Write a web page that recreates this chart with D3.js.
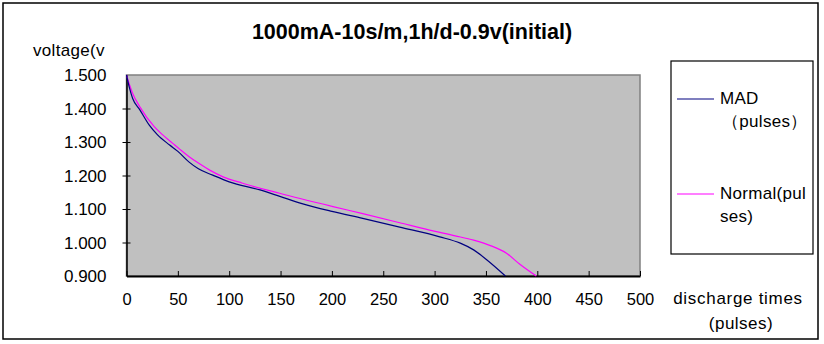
<!DOCTYPE html>
<html><head><meta charset="utf-8">
<script src="https://cdn.jsdelivr.net/npm/d3@7"></script>
<style>
body{margin:0;background:#fff;}
svg{display:block;font-family:Arial,"Liberation Sans",sans-serif;}
</style></head>
<body>
<svg id="c" width="824" height="344"></svg>
<script>
const title = "1000mA-10s/m,1h/d-0.9v(initial)";
const xTicks = [0,50,100,150,200,250,300,350,400,450,500];
const yTicks = [0.9,1.0,1.1,1.2,1.3,1.4,1.5];
const madPulses = [0,3,6,13,22,30,42,50,61,70,84,100,130,150,170,200,230,266,305,325,338,351,369];
const madVolts  = [1.5,1.46,1.43,1.396,1.351,1.322,1.291,1.272,1.240,1.220,1.201,1.181,1.157,1.137,1.117,1.093,1.072,1.046,1.017,0.998,0.978,0.948,0.9];
const normPulses = [0,3,6,13,27,35,45,52,61,70,81,94,113,149,200,230,266,295,320,338,355,370,383,399];
const normVolts  = [1.5,1.47,1.445,1.405,1.346,1.322,1.296,1.278,1.256,1.237,1.216,1.196,1.177,1.147,1.108,1.086,1.059,1.037,1.020,1.007,0.990,0.968,0.935,0.9];

const svg = d3.select("#c");
const L=126.5, R=640, T=75, B=276;
const x = d3.scaleLinear().domain([0,500]).range([L,R]);
const y = d3.scaleLinear().domain([0.9,1.5]).range([B,T]);
const FONT = "Arial,'Liberation Sans',sans-serif";

svg.append("rect").attr("x",3).attr("y",3).attr("width",815).attr("height",336)
  .attr("fill","#fff").attr("stroke","#000").attr("stroke-width",1.5);

svg.append("text").attr("x",412).attr("y",39).attr("text-anchor","middle")
  .attr("font-size",21.5).attr("font-weight","bold").text(title);

svg.append("rect").attr("x",L).attr("y",T).attr("width",R-L).attr("height",B-T)
  .attr("fill","#c0c0c0").attr("stroke","#808080").attr("stroke-width",1.5);

const yAxis = d3.axisLeft(y).tickValues(yTicks).tickFormat(d3.format(".3f")).tickSizeInner(4).tickSizeOuter(0).tickPadding(16);
const gy = svg.append("g").attr("transform",`translate(${L},0)`).call(yAxis);
gy.select(".domain").attr("stroke","#000").attr("stroke-width",1.5);
gy.selectAll(".tick line").attr("x2",4).attr("x1",-4).attr("stroke","#000");
gy.selectAll(".tick text").attr("font-size",17).attr("font-family",FONT).attr("fill","#000").attr("dy","0.35em");
gy.selectAll(".tick").filter(d=>d===0.9||d===1.5).select("line").remove();

const xAxis = d3.axisBottom(x).tickValues(xTicks).tickSizeInner(-5).tickSizeOuter(0).tickPadding(17);
const gx = svg.append("g").attr("transform",`translate(0,${B})`).call(xAxis);
gx.select(".domain").attr("stroke","#000").attr("stroke-width",2);
gx.selectAll(".tick line").attr("stroke","#000");
gx.selectAll(".tick text").attr("font-size",16.5).attr("font-family",FONT).attr("fill","#000");

svg.append("text").attr("x",33).attr("y",56).attr("font-size",17).attr("letter-spacing",0.3).text("voltage(v");
svg.append("text").attr("x",738).attr("y",304).attr("text-anchor","middle").attr("font-size",17).attr("letter-spacing",0.7).text("discharge times");
svg.append("text").attr("x",741).attr("y",329).attr("text-anchor","middle").attr("font-size",17).attr("letter-spacing",0.5).text("(pulses)");

const line = d3.line().x(d=>x(d[0])).y(d=>y(d[1])).curve(d3.curveMonotoneX);
svg.append("path").datum(normPulses.map((p,i)=>[p,normVolts[i]]))
  .attr("d",line).attr("fill","none").attr("stroke","#ff00ff").attr("stroke-width",1.2);
svg.append("path").datum(madPulses.map((p,i)=>[p,madVolts[i]]))
  .attr("d",line).attr("fill","none").attr("stroke","#000080").attr("stroke-width",1.2);

svg.append("rect").attr("x",671).attr("y",61).attr("width",142).attr("height",193)
  .attr("fill","#fff").attr("stroke","#000").attr("stroke-width",1.2);
const legendItems = [
  {color:"#000080", lines:["MAD","（pulses）"], ly:99, dx:[0,2]},
  {color:"#ff00ff", lines:["Normal(pul","ses)"], ly:194, dx:[0,0]}
];
legendItems.forEach(it=>{
  svg.append("line").attr("x1",677).attr("x2",714).attr("y1",it.ly).attr("y2",it.ly)
    .attr("stroke",it.color).attr("stroke-width",1.2);
  it.lines.forEach((t,i)=>{
    svg.append("text").attr("x",720+it.dx[i]).attr("y",it.ly+5+i*23).attr("font-size",17).attr("letter-spacing",0.3).text(t);
  });
});
</script>
</body></html>
